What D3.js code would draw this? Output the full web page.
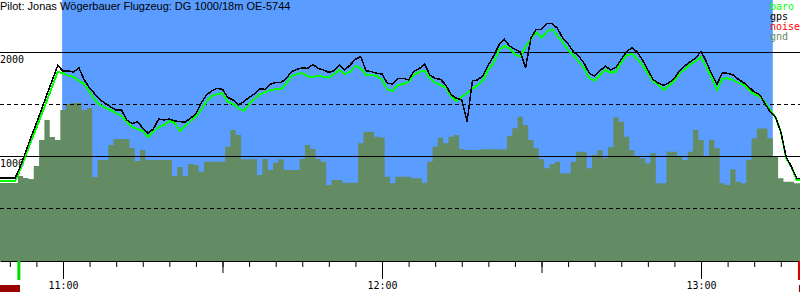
<!DOCTYPE html>
<html>
<head>
<meta charset="utf-8">
<script src="https://cdn.jsdelivr.net/npm/d3@7"></script>
<style>
  body { margin: 0; background: #fff; }
  svg { display: block; }
  text { font-family: "DejaVu Sans Mono", monospace; font-size: 10px; }
  .title { font-family: "Liberation Sans", Arial, sans-serif; font-size: 11px; }
  .trace { shape-rendering: crispEdges; }
</style>
</head>
<body>
<div id="chart"></div>
<script>
const title = "Pilot: Jonas Wögerbauer Flugzeug: DG 1000/18m OE-5744";

// one sample per minute, starting at 10:48
const sampleStart = "10:48";

const baro = [
  760, 760, 760, 760, 875, 1010, 1144, 1269, 1404, 1538,
  1673, 1810, 1795, 1774, 1760, 1721, 1692, 1615, 1538, 1490,
  1462, 1442, 1413, 1385, 1327, 1279, 1260, 1240, 1183, 1231,
  1279, 1298, 1337, 1317, 1240, 1288, 1337, 1385, 1442, 1529,
  1577, 1596, 1603, 1522, 1500, 1459, 1433, 1497, 1548, 1593,
  1612, 1635, 1641, 1641, 1699, 1769, 1788, 1798, 1766, 1760,
  1772, 1762, 1753, 1786, 1827, 1788, 1811, 1865, 1843, 1779,
  1779, 1769, 1731, 1641, 1625, 1683, 1692, 1714, 1779, 1808,
  1820, 1747, 1705, 1683, 1657, 1570, 1529, 1570, 1606, 1647,
  1680, 1728, 1827, 1897, 2019, 2058, 2035, 1978, 1955, 2051,
  2122, 2189, 2141, 2195, 2221, 2154, 2093, 2019, 1971, 1907,
  1843, 1747, 1724, 1779, 1830, 1801, 1811, 1897, 1971, 1978,
  1936, 1872, 1795, 1718, 1683, 1635, 1676, 1724, 1791, 1839,
  1878, 1913, 1949, 1849, 1757, 1632, 1743, 1747, 1731, 1705,
  1683, 1635, 1593, 1574, 1522, 1442, 1372, 1234, 978, 897,
  770, 770
];

const gps = [
  788, 788, 788, 788, 904, 1043, 1183, 1317, 1452, 1596,
  1731, 1870, 1817, 1817, 1808, 1846, 1731, 1654, 1596, 1538,
  1505, 1471, 1442, 1442, 1346, 1313, 1327, 1269, 1221, 1260,
  1356, 1346, 1356, 1337, 1330, 1327, 1365, 1404, 1510, 1587,
  1628, 1651, 1641, 1564, 1538, 1490, 1522, 1564, 1596, 1647,
  1641, 1692, 1705, 1705, 1747, 1811, 1834, 1846, 1843, 1880,
  1843, 1827, 1805, 1820, 1875, 1827, 1875, 1930, 1955, 1820,
  1811, 1795, 1788, 1699, 1692, 1747, 1747, 1731, 1814, 1839,
  1885, 1779, 1747, 1737, 1683, 1589, 1555, 1538, 1330, 1724,
  1731, 1776, 1875, 1962, 2067, 2122, 2058, 2026, 2003, 1846,
  2132, 2218, 2218, 2276, 2272, 2228, 2132, 2077, 2003, 1962,
  1891, 1795, 1769, 1820, 1865, 1827, 1853, 1930, 2003, 2041,
  2000, 1923, 1827, 1734, 1699, 1680, 1705, 1747, 1824, 1868,
  1907, 1942, 2007, 1907, 1788, 1689, 1801, 1795, 1779, 1738,
  1705, 1663, 1615, 1593, 1507, 1426, 1375, 1234, 993, 897,
  786, 786
];

const gnd = [
  740, 740, 740, 740, 808, 788, 779, 904, 1154, 1346,
  1183, 1154, 1442, 1500, 1510, 1510, 1442, 1462, 798, 962,
  962, 1106, 1163, 1163, 1163, 1077, 952, 1058, 962, 962,
  962, 962, 962, 808, 894, 808, 923, 913, 849, 945,
  945, 945, 945, 1089, 1250, 1202, 968, 968, 968, 817,
  971, 865, 936, 968, 865, 865, 865, 971, 1106, 1067,
  971, 945, 721, 769, 769, 743, 743, 743, 1122, 1234,
  1234, 1186, 1179, 801, 737, 801, 801, 801, 786, 786,
  743, 945, 1089, 1176, 1122, 1186, 1202, 1067, 1058, 1058,
  1058, 1064, 1064, 1064, 1064, 1064, 1192, 1266, 1378, 1298,
  1154, 1074, 968, 882, 923, 945, 834, 834, 945, 1041,
  1041, 882, 1010, 1058, 981, 1084, 1372, 1330, 1186, 1058,
  993, 978, 930, 1026, 737, 737, 1041, 1041, 993, 962,
  1041, 1250, 1154, 993, 1154, 1074, 737, 721, 872, 753,
  737, 962, 1170, 1264, 1264, 1170, 993, 786, 753, 753,
  737, 737
];

const solidAlts = [2000, 1000];
const dashedAlts = [1500, 500];
const flightWindow = ["10:59:50", "13:13:30"];
const takeoff = "10:51:42";
const landing = "13:18:25";
const noiseSpans = [["10:48:00", "10:51:55"], ["13:18:25", "13:19:00"]];
const seriesNames = ["baro", "gps", "noise", "gnd"];

const width = 800, height = 300, plotBottom = 261;

const parseHM = d3.timeParse("%H:%M");
const parseHMS = d3.timeParse("%H:%M:%S");
const t0 = parseHM(sampleStart);
const times = baro.map((_, i) => d3.timeMinute.offset(t0, i));

const color = d3.scaleOrdinal()
    .domain(seriesNames)
    .range(["#00ff00", "#000000", "#ff0000", "#648c64"]);

const x = d3.scaleTime()
    .domain([parseHMS("10:48:09"), parseHMS("13:18:37")])
    .range([0, width]);

const y = d3.scaleLinear().domain([0, 2500]).range([260, 0]);

const svg = d3.select("#chart").append("svg")
    .attr("width", width)
    .attr("height", height);

// flight window background
svg.append("rect")
    .attr("x", x(parseHMS(flightWindow[0])))
    .attr("y", 0)
    .attr("width", x(parseHMS(flightWindow[1])) - x(parseHMS(flightWindow[0])))
    .attr("height", plotBottom)
    .attr("fill", "#5a9cff");

// ground
svg.append("path")
    .datum(gnd)
    .attr("fill", color("gnd"))
    .attr("d", d3.area()
        .curve(d3.curveStep)
        .x((d, i) => x(times[i]))
        .y0(plotBottom)
        .y1(d => y(d)));

// altitude grid
svg.selectAll(".solid").data(solidAlts).enter().append("line")
    .attr("x1", 0).attr("x2", width)
    .attr("y1", d => Math.round(y(d)) + 0.5)
    .attr("y2", d => Math.round(y(d)) + 0.5)
    .attr("stroke", "#000");

svg.selectAll(".dashed").data(dashedAlts).enter().append("line")
    .attr("x1", 0).attr("x2", width)
    .attr("y1", d => Math.round(y(d)) + 0.5)
    .attr("y2", d => Math.round(y(d)) + 0.5)
    .attr("stroke", "#000")
    .attr("stroke-dasharray", "4,3");

svg.selectAll(".altlabel").data(solidAlts).enter().append("text")
    .attr("x", 0)
    .attr("y", d => y(d) + 11)
    .text(d => d);

// flight traces
const line = d3.line().x((d, i) => x(times[i])).y(d => y(d));

svg.append("path")
    .datum(baro)
    .attr("class", "trace")
    .attr("fill", "none")
    .attr("stroke", color("baro"))
    .attr("stroke-width", 2)
    .attr("d", line);

svg.append("path")
    .datum(gps)
    .attr("class", "trace")
    .attr("fill", "none")
    .attr("stroke", color("gps"))
    .attr("stroke-width", 1.5)
    .attr("d", line);

// time axis: 5 min, 30 min and hour ticks
const axisG = svg.append("g").attr("transform", `translate(0,${plotBottom})`);

axisG.append("g")
    .call(d3.axisBottom(x).ticks(d3.timeMinute.every(5)).tickSize(6).tickSizeOuter(0).tickFormat(""));

axisG.append("g")
    .call(d3.axisBottom(x).ticks(d3.timeMinute.every(30)).tickSize(12).tickSizeOuter(0).tickFormat(""))
    .select(".domain").remove();

const hours = axisG.append("g")
    .call(d3.axisBottom(x).ticks(d3.timeHour.every(1)).tickSize(18).tickPadding(3)
        .tickSizeOuter(0).tickFormat(d3.timeFormat("%H:%M")));
hours.select(".domain").remove();
hours.selectAll("text")
    .attr("font-family", "DejaVu Sans Mono, monospace")
    .attr("font-size", 10);

// takeoff / landing markers
svg.append("rect")
    .attr("x", x(parseHMS(takeoff)) - 1.5)
    .attr("y", plotBottom)
    .attr("width", 3)
    .attr("height", 19)
    .attr("fill", "#00dd00");

svg.append("rect")
    .attr("x", x(parseHMS(landing)) - 1)
    .attr("y", plotBottom)
    .attr("width", 3)
    .attr("height", 19)
    .attr("fill", "#dd0000");

// noise band
svg.selectAll(".noise").data(noiseSpans).enter().append("rect")
    .attr("x", d => x(parseHMS(d[0])))
    .attr("y", 285)
    .attr("width", d => x(parseHMS(d[1])) - x(parseHMS(d[0])))
    .attr("height", 7)
    .attr("fill", "#990000");

// title
svg.append("text")
    .attr("class", "title")
    .attr("x", 0)
    .attr("y", 10)
    .text(title);

// legend
svg.selectAll(".legend").data(seriesNames).enter().append("text")
    .attr("x", 770)
    .attr("y", (d, i) => 10 + i * 10)
    .attr("fill", d => color(d))
    .text(d => d);
</script>
</body>
</html>
